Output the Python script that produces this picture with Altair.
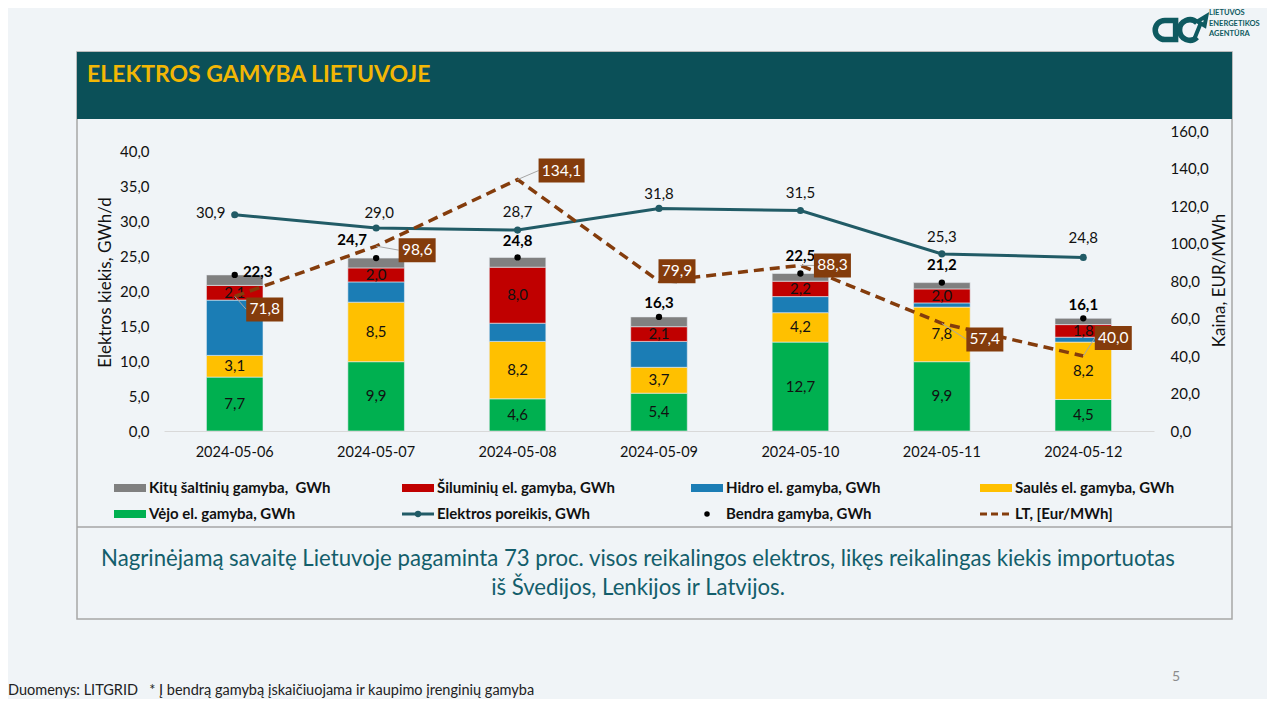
import altair as alt
import pandas as pd

FONT = "Lato"

# ---------------- data ----------------
dates = ["2024-05-06", "2024-05-07", "2024-05-08", "2024-05-09",
         "2024-05-10", "2024-05-11", "2024-05-12"]
wind = [7.7, 9.9, 4.6, 5.4, 12.7, 9.9, 4.5]
solar = [3.1, 8.5, 8.2, 3.7, 4.2, 7.8, 8.2]
hydro = [7.9, 2.9, 2.6, 3.7, 2.3, 0.6, 0.7]
thermal = [2.1, 2.0, 8.0, 2.1, 2.2, 2.0, 1.8]
other = [1.5, 1.4, 1.4, 1.4, 1.1, 0.9, 0.9]
total = [22.3, 24.7, 24.8, 16.3, 22.5, 21.2, 16.1]
demand = [30.9, 29.0, 28.7, 31.8, 31.5, 25.3, 24.8]
price = [71.8, 98.6, 134.1, 79.9, 88.3, 57.4, 40.0]

series_names = ["Vėjo el. gamyba, GWh", "Saulės el. gamyba, GWh",
                "Hidro el. gamyba, GWh", "Šiluminių el. gamyba, GWh",
                "Kitų šaltinių gamyba,  GWh"]
series_values = [wind, solar, hydro, thermal, other]
series_colors = ["#00B050", "#FFC000", "#1B7DB5", "#C00000", "#808080"]
series_labelled = [True, True, False, True, False]

left_ticks = [0, 5, 10, 15, 20, 25, 30, 35, 40]
right_ticks = [0, 20, 40, 60, 80, 100, 120, 140, 160]

title_text = "ELEKTROS GAMYBA LIETUVOJE"
summary_lines = [
    "Nagrinėjamą savaitę Lietuvoje pagaminta 73 proc. visos reikalingos elektros, likęs reikalingas kiekis importuotas",
    "iš Švedijos, Lenkijos ir Latvijos.",
]
footer_text = "Duomenys: LITGRID \u00a0 * Į bendrą gamybą įskaičiuojama ir kaupimo įrenginių gamyba"
page_number = "5"
logo_lines = ["LIETUVOS", "ENERGETIKOS", "AGENTŪRA"]

legend_labels = ["Kitų šaltinių gamyba, \u00a0GWh", "Šiluminių el. gamyba, GWh",
                 "Hidro el. gamyba, GWh", "Saulės el. gamyba, GWh",
                 "Vėjo el. gamyba, GWh", "Elektros poreikis, GWh",
                 "Bendra gamyba, GWh", "LT, [Eur/MWh]"]
legend_kinds = ["rect", "rect", "rect", "rect", "rect", "line", "dot", "dash"]
legend_colors = ["#808080", "#C00000", "#1B7DB5", "#FFC000", "#00B050",
                 "#215B66", "#000000", "#843C0C"]

# ---------------- styles (label nudges in pixels, as placed in the original) ----------------
BG = "#F0F4F7"
TEAL = "#215B66"
BROWN = "#843C0C"
HEADER = "#0B5058"
BORDER = "#A6A6A6"
price_nudge_x = [30, 41, 44, 18, 32, 43, 30]
price_nudge_y = [13, 4, -9, -10, 0, 16, -18]
total_nudge_x = [23, -24, 0, 0, 0, 0, 0]
total_nudge_y = [-3, -18, -16, -14, -18, -18, -13]
demand_nudge_x = [-24, 3, 0, 0, 0, 0, 0]
demand_nudge_y = [-2, -15, -18, -14, -18, -17, -19]


def fmt(v):
    return f"{v:.1f}".replace(".", ",")


rows = []
for si, (name, vals) in enumerate(zip(series_names, series_values)):
    for d, v in zip(dates, vals):
        rows.append({"date": d, "series": name, "value": v, "order": si,
                     "label": fmt(v) if series_labelled[si] else ""})
bar_df = pd.DataFrame(rows)

line_df = pd.DataFrame({
    "date": dates, "total": total, "demand": demand, "price": price,
    "total_lbl": [fmt(v) for v in total],
    "demand_lbl": [fmt(v) for v in demand],
    "price_lbl": [fmt(v) for v in price],
})

one = pd.DataFrame({"k": [0]})

YMAX_LEFT = 300 / 7.0
x_scale = alt.Scale(domain=dates, paddingInner=0, paddingOuter=0)
label_expr = "replace(format(datum.value, '.1f'), '.', ',')"


def y_left():
    return alt.Scale(domain=[0, YMAX_LEFT], nice=False, zero=True)


def y_right():
    return alt.Scale(domain=[0, 160], nice=False, zero=True)


x_axis = alt.Axis(title=None, labelAngle=0, labelFontSize=14.5, labelPadding=14,
                  labelColor="#111111", domainColor="#D9D9D9", domainWidth=1.2,
                  ticks=False, grid=False, zindex=1)
left_axis = alt.Axis(orient="left", values=left_ticks, labelExpr=label_expr, domain=False,
                     ticks=False, grid=False, labelPadding=15, labelFontSize=15,
                     labelColor="#111111", zindex=1,
                     title="Elektros kiekis, GWh/d", titleFontSize=17,
                     titleFontWeight="normal", titleColor="#111111",
                     titleX=-59, titleY=151, titleAngle=270,
                     titleAlign="center", titleBaseline="middle")
right_axis = alt.Axis(orient="right", values=right_ticks, labelExpr=label_expr,
                      domain=False, ticks=False, grid=False, labelPadding=16,
                      labelFontSize=15, labelColor="#111111", zindex=1,
                      title="Kaina, EUR/MWh", titleFontSize=17,
                      titleFontWeight="normal", titleColor="#111111",
                      titleX=65, titleY=149, titleAngle=270,
                      titleAlign="center", titleBaseline="middle")

xpos = alt.X("date:N", sort=dates, scale=x_scale, axis=x_axis)

# ---------------- chart layers ----------------
layers = []
layers.append(alt.Chart(bar_df).mark_bar(width=alt.RelativeBandSize(0.4), stroke="#E8EDF1",
                                         strokeWidth=0.6).encode(
    x=xpos,
    y=alt.Y("value:Q", stack="zero", scale=y_left(), axis=left_axis),
    color=alt.Color("series:N", scale=alt.Scale(domain=series_names, range=series_colors),
                    legend=None),
    order=alt.Order("order:Q", sort="ascending"),
))

layers.append(alt.Chart(bar_df).transform_stack(
    stack="value", groupby=["date"], sort=[alt.SortField("order", "ascending")],
    as_=["v0", "v1"]
).transform_calculate(mid="(datum.v0 + datum.v1) / 2").transform_filter(
    "datum.label != ''"
).mark_text(fontSize=15, color="#111111", font=FONT, baseline="middle").encode(
    x=xpos, y=alt.Y("mid:Q", scale=y_left(), axis=None), text="label:N",
))

layers.append(alt.Chart(line_df).mark_line(
    color=TEAL, strokeWidth=3,
    point=alt.OverlayMarkDef(filled=True, color=TEAL, size=50, opacity=1)).encode(
    x=xpos, y=alt.Y("demand:Q", scale=y_left(), axis=None),
))

layers.append(alt.Chart(line_df).mark_point(filled=True, color="#000000", size=40,
                                            opacity=1).encode(
    x=xpos, y=alt.Y("total:Q", scale=y_left(), axis=None),
))

layers.append(alt.Chart(line_df).mark_line(color=BROWN, strokeWidth=3.5,
                                           strokeDash=[10, 6]).encode(
    x=xpos, y=alt.Y("price:Q", scale=y_right(), axis=right_axis),
))

S = 60.0
for i, d in enumerate(dates):
    sel = alt.datum.date == d
    # demand label
    layers.append(alt.Chart(line_df).transform_filter(sel).mark_text(
        fontSize=15, color="#111111", font=FONT, baseline="middle",
        dx=demand_nudge_x[i], dy=demand_nudge_y[i]).encode(
        x=xpos, y=alt.Y("demand:Q", scale=y_left(), axis=None), text="demand_lbl:N"))
    # total label
    layers.append(alt.Chart(line_df).transform_filter(sel).mark_text(
        fontSize=15, fontWeight="bold", color="#000000", font=FONT, baseline="middle",
        dx=total_nudge_x[i], dy=total_nudge_y[i]).encode(
        x=xpos, y=alt.Y("total:Q", scale=y_left(), axis=None), text="total_lbl:N"))
    # price label box
    cx, cy = price_nudge_x[i], price_nudge_y[i]
    hw = (9 * len(fmt(price[i])) + 1) / 2.0
    hh = 12
    x1, x2 = (cx - hw) / S, (cx + hw) / S
    y1, y2 = (cy - hh) / S, (cy + hh) / S
    box_path = f"M {x1:.4f},{y1:.4f} L {x2:.4f},{y1:.4f} L {x2:.4f},{y2:.4f} L {x1:.4f},{y2:.4f} Z"
    ex = cx - hw if cx - hw > 4 else cx
    ey = cy if cx - hw > 4 else (cy + hh if cy < 0 else cy - hh)
    leader_path = f"M 0,0 L {ex / S:.4f},{ey / S:.4f}"
    layers.append(alt.Chart(line_df).transform_filter(sel).mark_point(
        shape=leader_path, filled=False, color="#A6A6A6", strokeWidth=1, opacity=1,
        size=(2 * S) ** 2).encode(
        x=xpos, y=alt.Y("price:Q", scale=y_right(), axis=None)))
    layers.append(alt.Chart(line_df).transform_filter(sel).mark_point(
        shape=box_path, filled=True, color=BROWN, opacity=1, strokeWidth=0,
        size=(2 * S) ** 2).encode(
        x=xpos, y=alt.Y("price:Q", scale=y_right(), axis=None)))
    layers.append(alt.Chart(line_df).transform_filter(sel).mark_text(
        fontSize=15.5, color="#FFFFFF", font=FONT, baseline="middle",
        dx=cx, dy=cy).encode(
        x=xpos, y=alt.Y("price:Q", scale=y_right(), axis=None), text="price_lbl:N"))

# ---------------- decorations ----------------
deco = []
deco.append(alt.Chart(one).mark_rect(fillOpacity=0, stroke=BORDER, strokeWidth=1.5).encode(
    x=alt.value(-87), x2=alt.value(1068), y=alt.value(-79), y2=alt.value(488)))
deco.append(alt.Chart(one).mark_rect(fill=HEADER).encode(
    x=alt.value(-87), x2=alt.value(1068), y=alt.value(-79), y2=alt.value(-12)))
deco.append(alt.Chart(one).mark_text(align="left", baseline="alphabetic", fontSize=23,
                                     fontWeight="bold", color="#F2B705", font=FONT).encode(
    x=alt.value(-77), y=alt.value(-49), text=alt.value(title_text)))
deco.append(alt.Chart(one).mark_rule(color=BORDER, strokeWidth=1.5).encode(
    x=alt.value(-87), x2=alt.value(1068), y=alt.value(396)))
for i, line in enumerate(summary_lines):
    deco.append(alt.Chart(one).mark_text(align="center", baseline="alphabetic", fontSize=22.2,
                                         color="#135E6B", font=FONT).encode(
        x=alt.value(474), y=alt.value(435 + i * 29), text=alt.value(line)))
deco.append(alt.Chart(one).mark_text(align="left", baseline="alphabetic", fontSize=14.5,
                                     color="#222222", font=FONT).encode(
    x=alt.value(-156), y=alt.value(564), text=alt.value(footer_text)))
deco.append(alt.Chart(one).mark_text(align="center", baseline="middle", fontSize=14,
                                     color="#8C8C8C", font=FONT).encode(
    x=alt.value(1012), y=alt.value(546), text=alt.value(page_number)))
LOGO = "#0E5A60"
deco.append(alt.Chart(one).mark_point(
    shape="M 0.8,-0.8 L -0.1,-0.8 A 0.8 0.8 0 0 0 -0.1,0.8 L 0.8,0.8 Z",
    filled=False, strokeWidth=5.5, color=LOGO, opacity=1, size=576).encode(
    x=alt.value(1002), y=alt.value(-101)))
deco.append(alt.Chart(one).mark_point(
    shape="M 0.75,-0.6 A 0.85 0.85 0 1 0 0.75,0.6",
    filled=False, strokeWidth=5.5, color=LOGO, opacity=1, size=576).encode(
    x=alt.value(1024), y=alt.value(-101)))
deco.append(alt.Chart(one).mark_point(
    shape="M -0.3,0.9 L 0.25,-0.45 M -0.05,-0.55 L 0.7,-1 L 0.55,-0.2 Z",
    filled=False, strokeWidth=4, color=LOGO, opacity=1, size=576).encode(
    x=alt.value(1034), y=alt.value(-103)))
for i, t in enumerate(logo_lines):
    deco.append(alt.Chart(one).mark_text(align="left", baseline="middle", fontSize=7.5,
                                         fontWeight="bold", color=LOGO, font=FONT).encode(
        x=alt.value(1045), y=alt.value(-118 + i * 10.5), text=alt.value(t)))

col_x = [-50, 238, 527, 816]
row_y = [357, 383]
for i, (lab, kind, col) in enumerate(zip(legend_labels, legend_kinds, legend_colors)):
    x0 = col_x[i % 4]
    y0 = row_y[i // 4]
    if kind == "rect":
        deco.append(alt.Chart(one).mark_rect(fill=col).encode(
            x=alt.value(x0), x2=alt.value(x0 + 32), y=alt.value(y0 - 4), y2=alt.value(y0 + 4)))
    elif kind == "line":
        deco.append(alt.Chart(one).mark_rule(color=col, strokeWidth=3).encode(
            x=alt.value(x0), x2=alt.value(x0 + 32), y=alt.value(y0)))
        deco.append(alt.Chart(one).mark_point(filled=True, color=col, opacity=1, size=40).encode(
            x=alt.value(x0 + 16), y=alt.value(y0)))
    elif kind == "dot":
        deco.append(alt.Chart(one).mark_point(filled=True, color=col, opacity=1, size=30).encode(
            x=alt.value(x0 + 16), y=alt.value(y0)))
    else:
        deco.append(alt.Chart(one).mark_rule(color=col, strokeWidth=3, strokeDash=[7, 4]).encode(
            x=alt.value(x0), x2=alt.value(x0 + 32), y=alt.value(y0)))
    deco.append(alt.Chart(one).mark_text(align="left", baseline="middle", fontSize=15,
                                         fontWeight="bold", color="#111111", font=FONT).encode(
        x=alt.value(x0 + 35), y=alt.value(y0), text=alt.value(lab)))

chart = alt.layer(*layers, *deco).resolve_scale(y="independent").properties(
    width=990, height=300,
    padding={"left": 156, "top": 123, "right": 113, "bottom": 268},
    autosize=alt.AutoSizeParams(type="none"),
).configure(background=BG, font=FONT).configure_view(stroke=None)

chart.save("out.html", embed_options={"renderer": "svg", "actions": False})
